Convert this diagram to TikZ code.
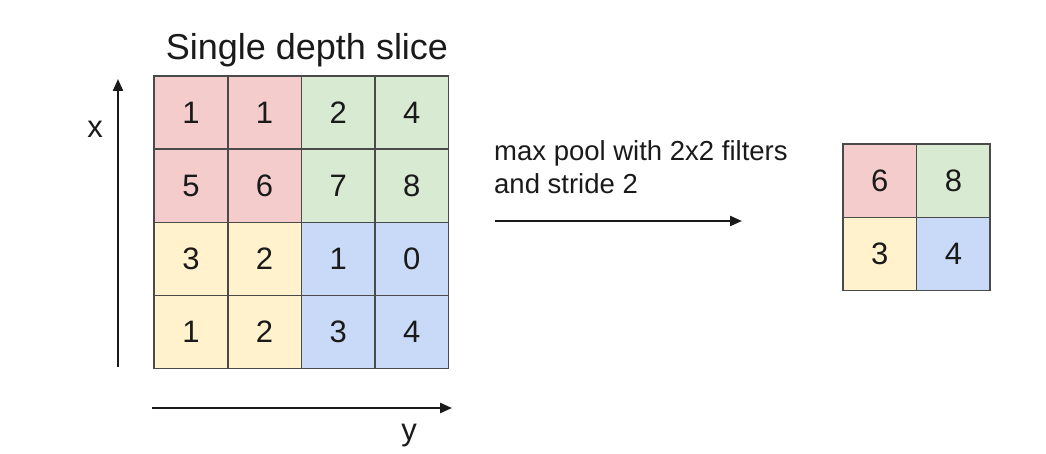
\documentclass[tikz,border=0pt]{standalone}
\usepackage{fontspec}
\setmainfont{Liberation Sans}
\usetikzlibrary{arrows.meta}
\definecolor{cred}{HTML}{F4CCCC}
\definecolor{cgreen}{HTML}{D9EAD3}
\definecolor{cyellow}{HTML}{FFF2CC}
\definecolor{cblue}{HTML}{C9DAF8}
\definecolor{cline}{HTML}{4A4A4A}
\definecolor{ctext}{HTML}{1A1A1A}
\tikzset{
  cell/.style={draw=cline, line width=1.5pt, minimum width=73.6pt, minimum height=73.2pt,
    inner sep=0pt, outer sep=0pt, text=ctext, font=\fontsize{31}{36}\selectfont},
  axis/.style={draw=ctext, line width=2.2pt, -{Triangle[length=12pt,width=10pt]}},
  lbl/.style={text=ctext, inner sep=0pt}
}
\begin{document}
\begin{tikzpicture}[x=1pt,y=-1pt]
\useasboundingbox[fill=white] (0,0) rectangle (1046,454);
% input grid
\node[cell, fill=cred]    (c11) at (191.0,112.5) {1};
\node[cell, fill=cred]    (c12) at (264.6,112.5) {1};
\node[cell, fill=cgreen]  (c13) at (338.2,112.5) {2};
\node[cell, fill=cgreen]  (c14) at (411.8,112.5) {4};
\node[cell, fill=cred]    (c21) at (191.0,185.7) {5};
\node[cell, fill=cred]    (c22) at (264.6,185.7) {6};
\node[cell, fill=cgreen]  (c23) at (338.2,185.7) {7};
\node[cell, fill=cgreen]  (c24) at (411.8,185.7) {8};
\node[cell, fill=cyellow] (c31) at (191.0,258.9) {3};
\node[cell, fill=cyellow] (c32) at (264.6,258.9) {2};
\node[cell, fill=cblue]   (c33) at (338.2,258.9) {1};
\node[cell, fill=cblue]   (c34) at (411.8,258.9) {0};
\node[cell, fill=cyellow] (c41) at (191.0,332.1) {1};
\node[cell, fill=cyellow] (c42) at (264.6,332.1) {2};
\node[cell, fill=cblue]   (c43) at (338.2,332.1) {3};
\node[cell, fill=cblue]   (c44) at (411.8,332.1) {4};
% output grid
\node[cell, fill=cred]    (o11) at (879.8,180.8) {6};
\node[cell, fill=cgreen]  (o12) at (953.4,180.8) {8};
\node[cell, fill=cyellow] (o21) at (879.8,254.0) {3};
\node[cell, fill=cblue]   (o22) at (953.4,254.0) {4};
% title
\node[lbl, anchor=base, font=\fontsize{36}{42}\selectfont] (title) at (307,60) {Single depth slice};
% axes
\coordinate (xs) at (118,367);
\coordinate (xe) at (118,79);
\coordinate (ys) at (152,408);
\coordinate (ye) at (452,408);
\draw[axis] (xs) -- (xe);
\draw[axis] (ys) -- (ye);
\node[lbl, font=\fontsize{31}{36}\selectfont, anchor=base] (xl) at (95,138) {x};
\node[lbl, font=\fontsize{31}{36}\selectfont, anchor=base] (yl) at (409,440) {y};
% operation
\node[lbl, anchor=base west, font=\fontsize{27.5}{32}\selectfont] (op1) at (494,161) {max pool with 2x2 filters};
\node[lbl, anchor=base west, font=\fontsize{27.5}{32}\selectfont] (op2) at (494,194) {and stride 2};
\coordinate (as) at (495,221);
\coordinate (ae) at (742,221);
\draw[axis] (as) -- (ae);
\end{tikzpicture}
\end{document}
